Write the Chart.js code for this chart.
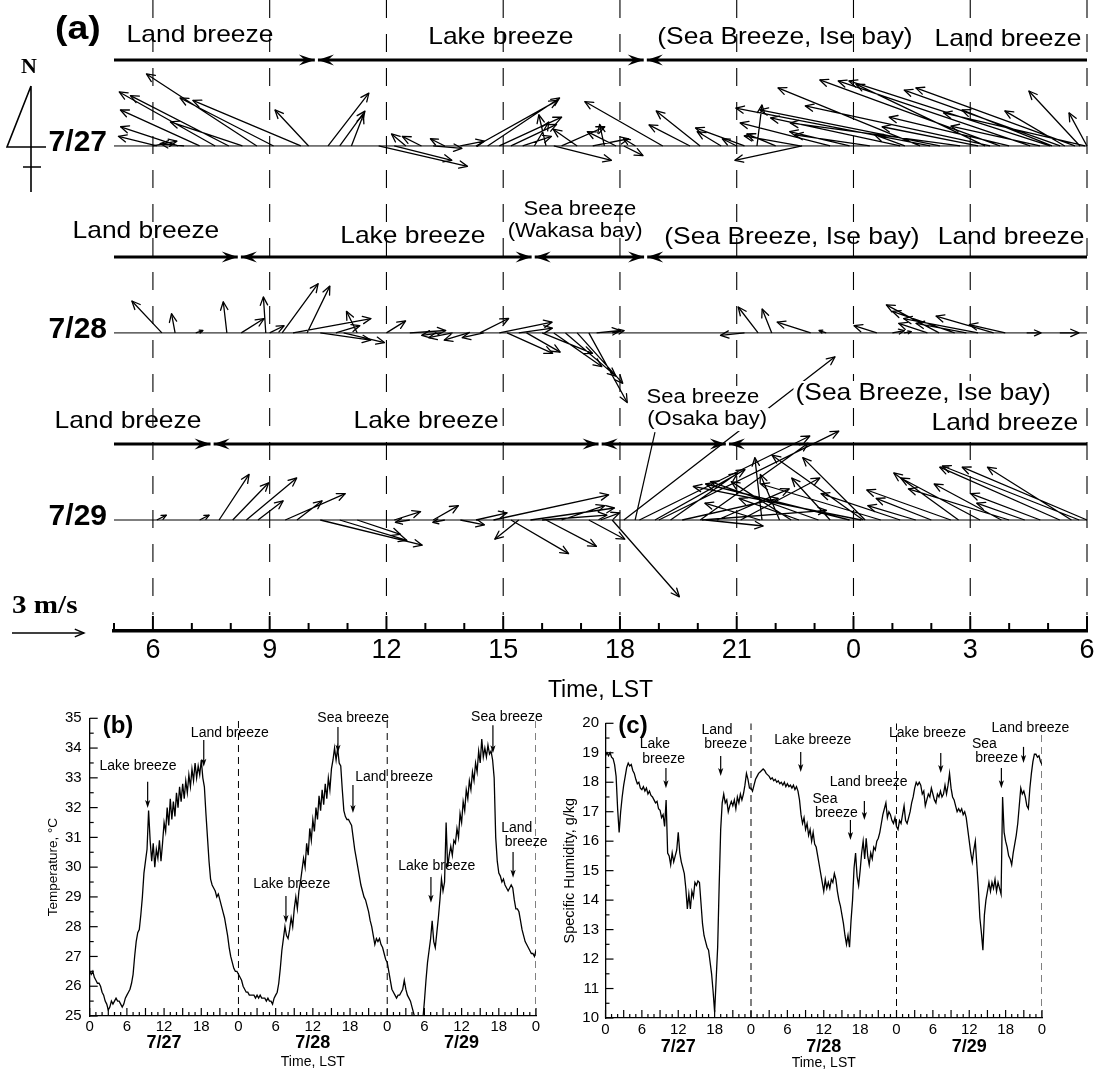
<!DOCTYPE html>
<html>
<head>
<meta charset="utf-8">
<title>Land, lake and sea breezes 7/27-7/29</title>
<script src="https://cdn.jsdelivr.net/npm/chart.js@4.4.1/dist/chart.umd.min.js"></script>
<style>
  html, body { margin:0; padding:0; background:#ffffff; }
  #fig { position:relative; width:1110px; height:1074px; overflow:hidden; background:#ffffff; }
  #fig canvas { position:absolute; }
</style>
</head>
<body>
<div id="fig">
  <canvas id="panelB" width="560" height="384" style="left:0px;top:690px;width:560px;height:384px"></canvas>
  <canvas id="panelC" width="555" height="384" style="left:555px;top:690px;width:555px;height:384px"></canvas>
  <canvas id="panelA" width="1110" height="712" style="left:0px;top:0px;width:1110px;height:712px"></canvas>
</div>
<script>
// ================= DATA =================
// ---- Panel (a): wind vectors (time in hours from 0 LST of 7/27's row, u/v in m/s) ----
const DATE_LABELS = ['7/27', '7/28', '7/29'];
const TIME_TICKS_A = [6, 9, 12, 15, 18, 21, 24, 27, 30];

const WIND_0727_T = [6.0, 6.1, 6.65, 6.8, 7.2, 7.6, 7.95, 8.3, 8.67, 9.1, 9.8, 10.0, 10.5, 10.8, 11.1,
  11.8, 12.2, 12.5, 12.9, 13.2, 13.5, 13.9, 14.3, 14.6, 14.9, 15.2, 15.5, 15.8, 16.1, 16.3, 16.5, 16.9, 17.3, 17.6, 17.9, 18.1, 18.4,
  19.1, 19.8, 20.06, 20.6, 21.0, 21.2, 21.52, 22.0, 22.63, 22.68, 23.4, 23.9, 24.42, 25.2, 25.32, 25.71, 25.97, 26.22, 26.74, 27.2, 27.38, 27.51, 27.76, 28.0, 28.54, 28.79, 29.05, 29.1, 29.31, 29.43, 29.69, 29.82, 29.95, 30.0];
const WIND_0727_U = [1.0, -1.6, -2.4, -1.0, -3.3, -4.0, -4.1, -3.0, -4.6, -3.9, -4.5, -1.4, 1.7, 1.05, 0.5,
  3.7, 2.4, -0.6, -0.8, 1.2, -0.6, 1.0, 3.4, 3.0, 2.6, 1.9, 1.2, 0.6, -0.3, 2.4, 1.8, -1.0, 1.5, -0.2, -1.2, 0.8, -0.5,
  -3.25, -1.71, -1.83, -1.0, -0.6, -2.04, 0.21, -1.2, -2.33, -2.8, -3.75, -2.5, -3.13, -5.4, -1.25, -5.92, -8.1, -7.5, -7.08, -4.0, -5.38, -7.7, -7.5, -5.0, -8.0, -3.71, -8.38, -3.75, -6.5, -2.5, -6.63, -2.13, -5.9, -0.75];
const WIND_0727_V = [0.2, 0.4, 0.8, 0.1, 1.5, 2.25, 2.1, 1.0, 3.0, 2.0, 1.9, 1.5, 2.2, 1.45, 1.3,
  -0.85, -0.6, 0.5, 0.4, -0.1, 0.3, 0.2, 1.9, 2.0, 1.2, 0.9, 0.4, 1.0, 1.3, -0.6, 0.8, 0.7, 0.3, 0.9, 0.6, -0.4, 0.3,
  1.85, 0.88, 1.46, 0.6, 0.3, 0.75, 1.71, 0.5, 0.42, -0.6, 0.96, 0.6, 0.46, 1.17, 0.46, 2.42, 1.58, 1.5, 0.96, 0.8, 2.58, 1.67, 2.75, 1.2, 2.71, 0.83, 2.71, 1.5, 2.33, 1.46, 2.42, 2.29, 1.38, 1.38];

const WIND_0728_T = [6.23, 6.57, 7.1, 7.9, 8.27, 8.9, 9.0, 9.32, 9.6, 9.96, 10.3, 10.7, 10.9, 11.25, 12.0, 12.6, 13.4, 13.7, 14.1, 14.4, 14.5, 14.9, 15.1, 15.4, 15.6, 16.0, 16.3, 16.6, 16.9, 17.2, 17.4, 17.8,
  21.2, 21.55, 21.9, 22.9, 23.3, 24.6, 25.0, 25.3, 25.9, 26.2, 26.6, 26.9, 27.2, 27.6, 27.9, 28.45, 29.3];
const WIND_0728_U = [-1.25, -0.15, 0.3, -0.15, 0.95, -0.1, 0.6, 1.5, 3.25, 0.95, 2.1, 1.0, 1.7, -0.45, 0.8, 1.5, -0.8, -1.0, -1.0, 1.2, -0.9, 2.2, 1.9, 1.4, 1.4, 2.1, 2.0, 2.1, 1.9, 1.6, 1.0, 0.5,
  -1.0, -0.83, -0.4, -1.4, -0.3, -0.95, 0.5, 0.3, -1.2, -2.2, -2.6, -2.1, -3.1, -2.4, -1.5, 0.6, 0.8];
const WIND_0728_V = [1.33, 0.8, 0.1, 1.3, 0.6, 1.5, 0.3, 2.05, 0.6, 1.95, -0.3, 0.3, -0.4, 0.9, 0.5, 0.1, -0.1, -0.2, -0.3, 0.6, -0.2, 0.45, -0.85, 0.2, -0.8, -0.85, -1.4, -1.8, -2.1, -2.9, 0.1, 0.1,
  -0.1, 1.08, 1.0, 0.45, 0.1, 0.3, 0.1, 0.05, 0.4, 1.17, 0.9, 0.4, 0.6, 0.7, 0.35, 0.0, 0.0];

const WIND_0729_T = [6.1, 7.2, 7.7, 8.05, 8.4, 8.7, 9.4, 9.7, 10.3, 10.8, 11.25, 12.2, 12.6, 13.2, 13.5, 13.9, 14.3, 14.75, 15.2, 15.4, 15.7, 16.0, 16.1, 16.5, 17.2, 17.5, 17.8,
  18.1, 18.5, 18.9, 19.0, 19.3, 19.6, 20.06, 20.1, 20.2, 20.5, 21.1, 21.6, 21.65, 22.1, 22.4, 22.6, 23.1, 23.4, 23.9, 24.2, 24.25, 24.3, 24.7, 25.2, 25.6, 26.0, 26.5, 26.7, 27.25, 27.8, 28.0, 28.4, 28.8, 29.3, 29.6, 29.8, 30.0];
const WIND_0729_U = [0.4, 0.4, 1.25, 1.5, 2.1, 1.05, 2.5, 1.05, 4.25, 2.8, 1.8, 1.1, -0.6, 1.05, -0.5, 1.0, 1.3, 4.8, 2.4, -1.0, 3.5, 2.7, 2.1, 1.8, 1.5, 0.8, 2.8,
  8.8, 7.1, 3.75, 7.5, 2.8, 4.0, 4.5, 5.2, 2.4, 3.0, 3.3, -2.3, -0.3, -0.8, -2.5, -2.5, -4.5, -1.6, -6.0, -7.0, -3.8, -2.6, -5.0, -3.3, -2.0, -2.3, -3.5, -2.7, -3.3, -2.8, -4.2, -2.0, -2.9, -5.0, -3.5, -5.7, -5.2];
const WIND_0729_V = [0.2, 0.2, 1.9, 1.55, 1.75, 0.8, 1.1, 0.8, -1.05, -0.85, -0.6, 0.35, -0.1, 0.6, -0.1, -0.2, 0.3, 1.05, -1.4, -0.8, 0.5, 0.2, -1.1, 0.6, -0.8, 0.3, -3.2,
  6.8, 3.5, 2.1, 3.7, 1.96, 0.9, 3.2, 0.4, -0.25, 1.3, 1.75, 0.7, 2.6, 1.9, 1.6, 0.9, 1.6, 1.75, 1.5, 1.4, 2.7, 2.6, 1.5, 1.1, 0.6, 0.9, 1.25, 1.96, 1.75, 1.5, 1.3, 0.7, 1.1, 2.2, 2.2, 2.25, 2.2];

// breeze period boundaries (hours)
const BREEZE_0727 = [5, 10.2, 18.65, 30];
const BREEZE_0728 = [5, 8.22, 15.77, 18.66, 30];
const BREEZE_0729 = [5, 7.52, 17.49, 20.76, 30];
const SCALE_ARROW_MS = 3;

// ---- Panels (b) and (c): time series every 0.25 h from 0 LST 7/27 ----
const SERIES_STEP_H = 0.25;
const TEMPERATURE_C = [
  26.5, 26.4, 26.5, 26.3,  26.2, 26.1, 26.1, 26.0,  25.8, 25.7, 25.5, 25.4,  25.2, 25.3, 25.5, 25.4,
  25.5, 25.6, 25.5, 25.5,  25.4, 25.3, 25.4, 25.6,  25.7, 25.8, 25.9, 26.1,  26.4, 27.0, 27.5, 27.8,
  27.9, 28.4, 29.0, 29.8,  30.2, 30.6, 31.9, 30.9,  30.2, 30.8, 30.0, 30.6,  30.3, 30.9, 30.2, 30.8,
  31.5, 31.2, 32.0, 31.4,  32.3, 31.6, 32.2, 31.7,  32.5, 32.0, 32.7, 32.2,  32.8, 32.3, 32.9, 32.5,
  33.1, 32.7, 33.3, 32.9,  33.5, 33.0, 33.4, 33.1,  33.6, 33.0, 32.7, 31.8,  31.0, 30.2, 29.6, 29.4,
  29.3, 29.2, 29.0, 29.1,  28.9, 28.7, 28.5, 28.3,  28.0, 27.7, 27.3, 27.0,  26.8, 26.6, 26.5, 26.5,
  26.4, 26.3, 26.2, 26.0,  25.9, 25.8, 25.8, 25.7,  25.7, 25.7, 25.7, 25.6,  25.7, 25.6, 25.7, 25.6,
  25.6, 25.6, 25.5, 25.6,  25.5, 25.5, 25.4, 25.6,  25.7, 25.8, 26.1, 26.6,  27.2, 27.6, 28.0, 27.7,
  27.6, 27.9, 28.3, 28.0,  28.6, 29.0, 28.6, 29.2,  29.5, 29.9, 30.3, 30.0,  30.8, 30.4, 31.3, 30.9,
  31.6, 31.2, 32.0, 31.6,  32.4, 31.9, 32.6, 32.1,  32.8, 32.3, 33.0, 32.6,  33.3, 33.6, 34.0, 33.6,
  34.0, 33.5, 33.4, 32.6,  31.9, 31.7, 31.6, 31.6,  31.5, 31.4, 31.0, 30.6,  30.3, 30.0, 29.7, 29.4,
  29.2, 29.0, 28.9, 28.7,  28.5, 28.2, 28.0, 27.7,  27.4, 27.6, 27.5, 27.6,  27.4, 27.3, 27.1, 26.9,
  26.8, 26.5, 26.2, 25.9,  25.8, 25.7, 25.6, 25.7,  25.7, 25.8, 25.9, 26.2,  25.9, 25.7, 25.6, 25.5,
  25.3, 25.1, 24.9, 24.7,  24.6, 24.6, 24.7, 24.9,  25.5, 26.2, 26.8, 27.2,  27.6, 28.2, 27.5, 27.3,
  27.8, 28.3, 28.9, 29.6,  29.2, 29.5, 31.5, 30.0,  30.4, 30.7, 30.4, 30.9,  30.8, 31.3, 31.0, 31.8,
  31.5, 32.2, 31.9, 32.6,  32.3, 32.9, 32.6, 33.2,  32.9, 33.5, 33.2, 33.9,  33.5, 34.3, 33.7, 34.0,
  33.7, 34.1, 33.8, 33.9,  33.6, 33.0, 31.0, 30.2,  29.8, 29.7, 29.5, 29.6,  29.4, 29.3, 29.2, 29.3,
  29.4, 29.3, 28.9, 28.6,  28.6, 28.5, 28.2, 27.9,  27.7, 27.5, 27.4, 27.3,  27.2, 27.1, 27.1, 27.0,
  27.2
];
const HUMIDITY_GKG = [
  18.9, 19.0, 18.9, 19.0,  18.85, 18.8, 18.6, 18.2,  17.1, 16.3, 17.0, 17.5,  17.9, 18.2, 18.5, 18.65,
  18.55, 18.6, 18.4, 18.3,  18.1, 17.95, 18.0, 17.8,  17.75, 17.85, 17.7, 17.8,  17.6, 17.7, 17.55, 17.5,
  17.4, 17.3, 17.35, 17.1,  17.05, 16.8, 16.9, 16.5,  17.4, 15.6, 15.5, 15.2,  15.6, 15.3, 15.5, 15.7,
  16.3, 15.6, 15.3, 15.1,  14.9, 14.4, 13.7, 14.2,  13.7, 14.3, 14.1, 14.6,  14.5, 14.65, 14.6, 13.9,
  13.2, 12.8, 12.6, 12.4,  12.3, 11.9, 11.5, 10.9,  10.2, 11.3, 12.4, 14.5,  16.4, 17.3, 17.6, 17.3,
  17.4, 17.0, 17.2, 17.35,  17.2, 17.4, 17.1, 17.5,  17.3, 17.6, 17.4, 17.6,  17.9, 18.3, 18.1, 17.8,
  17.8, 17.7, 17.9, 18.1,  18.2, 18.3, 18.35, 18.4,  18.45, 18.4, 18.3, 18.25,  18.2, 18.1, 18.15, 18.05,
  18.1, 18.0, 18.05, 17.95,  18.0, 17.9, 18.0, 17.85,  17.95, 17.85, 17.9, 17.8,  17.9, 17.75, 17.85, 17.7,
  17.4, 16.9, 16.6, 16.8,  16.4, 16.6, 16.2, 16.4,  16.0, 16.3, 15.9, 15.8,  15.5, 15.2, 14.9, 14.6,
  14.3, 14.7, 14.4, 14.6,  14.4, 14.7, 14.6, 14.9,  14.7, 14.3, 14.0, 13.8,  13.5, 13.2, 12.8, 12.5,
  12.8, 12.4, 13.3, 14.0,  15.1, 15.6, 14.8, 14.5,  15.0, 15.6, 16.0, 15.4,  16.1, 15.5, 15.2, 15.6,
  15.4, 15.8, 15.7, 16.0,  16.1, 16.3, 16.6, 16.9,  17.1, 17.3, 16.8, 17.0,  16.9, 16.7, 16.6, 16.8,
  16.5, 16.4, 16.7, 16.6,  16.9, 17.2, 16.7, 16.6,  16.8, 17.0, 17.3, 17.5,  17.8, 18.0, 17.9, 18.0,
  17.9, 17.6, 17.7, 17.2,  17.4, 17.6, 17.5, 17.8,  17.6, 17.4, 17.3, 17.6,  17.5, 17.7, 17.5, 17.6,
  17.9, 17.6, 17.9, 18.3,  17.8, 17.5, 17.4, 17.2,  17.0, 17.1, 17.0, 17.1,  16.9, 17.0, 16.8, 16.4,
  16.0, 15.6, 15.3, 15.7,  16.0, 15.2, 14.4, 13.4,  12.9, 12.3, 13.5, 14.0,  14.3, 14.6, 14.3, 14.6,
  14.4, 14.7, 14.3, 14.6,  14.4, 14.2, 17.5, 16.3,  16.0, 15.8, 15.5, 15.4,  15.2, 15.6, 15.9, 16.2,
  16.6, 17.2, 17.8, 17.6,  17.7, 17.5, 17.2, 17.1,  17.8, 18.3, 18.7, 18.95,  18.95, 18.85, 18.9, 18.7,
  18.6
];
const DAY_LABELS = ['7/27', '7/28', '7/29'];
const DAY_CENTERS_H = [12, 36, 60];
const DAY_BOUNDARIES_H = [24, 48, 72];
const TIME_TICKS_BC = [0, 6, 12, 18, 24, 30, 36, 42, 48, 54, 60, 66, 72];
const TEMP_TICKS = [25, 26, 27, 28, 29, 30, 31, 32, 33, 34, 35];
const HUMID_TICKS = [10, 11, 12, 13, 14, 15, 16, 17, 18, 19, 20];

// ================= LAYOUT / STYLE =================
const SANS = "'Liberation Sans', Arial, Helvetica, sans-serif";
const SERIF = "'Liberation Serif', 'Times New Roman', serif";
const A_GEOM = {
  yMax: 631 / 24,             // y axis in m/s units (1 m/s drawn as 24 px)
  hoursPerMs: 0.6166,         // same drawn length on the time axis
  rowBase: [20.21, 12.42, 4.625],
  breezeY: [23.79, 15.58, 7.79],
  dashBottom: 0.67,
  stretch: 1.1
};
const A_LABELS = [
  {text: 'Land breeze', h: 7.21, y: 24.54},
  {text: 'Lake breeze', h: 14.94, y: 24.46},
  {text: '(Sea Breeze, Ise bay)', h: 22.24, y: 24.46},
  {text: 'Land breeze', h: 27.97, y: 24.38},
  {text: 'Land breeze', h: 5.82, y: 16.375},
  {text: 'Lake breeze', h: 12.68, y: 16.17},
  {text: 'Sea breeze', h: 16.97, y: 17.33, small: true},
  {text: '(Wakasa bay)', h: 16.85, y: 16.42, small: true},
  {text: '(Sea Breeze, Ise bay)', h: 22.42, y: 16.125},
  {text: 'Land breeze', h: 28.05, y: 16.125},
  {text: 'Land breeze', h: 5.36, y: 8.46},
  {text: 'Lake breeze', h: 13.02, y: 8.46},
  {text: 'Sea breeze', h: 20.13, y: 9.5, small: true, bg: true},
  {text: '(Osaka bay)', h: 20.24, y: 8.58, small: true, bg: true},
  {text: '(Sea Breeze, Ise bay)', h: 25.79, y: 9.625, bg: true},
  {text: 'Land breeze', h: 27.89, y: 8.375}
];
const OSAKA_LEADER = [{x: 18.39, y: 4.625}, {x: 18.9, y: 8.29}];

const B_NOTES = {
  texts: [
    {t: 'Lake breeze', h: 7.8, v: 33.27}, {t: 'Land breeze', h: 22.6, v: 34.37},
    {t: 'Sea breeze', h: 42.5, v: 34.89}, {t: 'Land breeze', h: 49.1, v: 32.9},
    {t: 'Lake breeze', h: 32.6, v: 29.29}, {t: 'Sea breeze', h: 67.3, v: 34.92},
    {t: 'Lake breeze', h: 56.0, v: 29.9}, {t: 'Land', h: 68.9, v: 31.19}, {t: 'breeze', h: 70.4, v: 30.72}
  ],
  arrows: [
    {h: 9.35, v1: 32.87, v2: 31.99}, {h: 18.4, v1: 34.27, v2: 33.37}, {h: 40.05, v1: 34.71, v2: 33.84},
    {h: 42.47, v1: 32.76, v2: 31.82}, {h: 31.66, v1: 29.03, v2: 28.12}, {h: 65.05, v1: 34.77, v2: 33.83},
    {h: 55.05, v1: 29.67, v2: 28.8}, {h: 68.3, v1: 30.51, v2: 29.64}
  ]
};
const C_NOTES = {
  texts: [
    {t: 'Lake', h: 8.15, v: 19.15}, {t: 'breeze', h: 9.6, v: 18.66},
    {t: 'Land', h: 18.4, v: 19.63}, {t: 'breeze', h: 19.8, v: 19.15},
    {t: 'Lake breeze', h: 34.2, v: 19.29}, {t: 'Land breeze', h: 43.4, v: 17.87},
    {t: 'Sea', h: 36.2, v: 17.29}, {t: 'breeze', h: 38.1, v: 16.81},
    {t: 'Lake breeze', h: 53.1, v: 19.52},
    {t: 'Sea', h: 62.5, v: 19.15}, {t: 'breeze', h: 64.5, v: 18.68},
    {t: 'Land breeze', h: 70.1, v: 19.72}
  ],
  arrows: [
    {h: 9.97, v1: 18.48, v2: 17.8}, {h: 19.0, v1: 18.89, v2: 18.21}, {h: 32.2, v1: 19.03, v2: 18.35},
    {h: 42.7, v1: 17.36, v2: 16.72}, {h: 40.4, v1: 16.72, v2: 16.04}, {h: 55.3, v1: 18.99, v2: 18.31},
    {h: 65.3, v1: 18.48, v2: 17.8}, {h: 68.95, v1: 19.2, v2: 18.65}
  ]
};

// ================= HELPERS =================
function drawText(ctx, text, x, y, font, opt) {
  opt = opt || {};
  const sx = opt.sx || 1, align = opt.align || 'center';
  ctx.save();
  ctx.font = font;
  ctx.textBaseline = opt.baseline || 'alphabetic';
  ctx.textAlign = 'left';
  const m = ctx.measureText(text);
  const w = m.width * sx;
  const x0 = align === 'center' ? x - w / 2 : (align === 'right' ? x - w : x);
  if (opt.bg) {
    ctx.fillStyle = '#ffffff';
    ctx.fillRect(x0 - 2, y - m.actualBoundingBoxAscent - 2, w + 4, m.actualBoundingBoxAscent + m.actualBoundingBoxDescent + 4);
  }
  ctx.fillStyle = '#000';
  ctx.translate(x0, y);
  ctx.scale(sx, 1);
  ctx.fillText(text, 0, 0);
  ctx.restore();
}
function openHead(ctx, x0, y0, x1, y1, len, ang) {
  const L = Math.hypot(x1 - x0, y1 - y0);
  if (L < 0.5) return;
  const l = Math.min(len, L * 0.5);
  const a = Math.atan2(y1 - y0, x1 - x0);
  ctx.beginPath();
  ctx.moveTo(x1 - l * Math.cos(a - ang), y1 - l * Math.sin(a - ang));
  ctx.lineTo(x1, y1);
  ctx.lineTo(x1 - l * Math.cos(a + ang), y1 - l * Math.sin(a + ang));
  ctx.stroke();
}
function solidHead(ctx, x0, y0, x1, y1) {
  const a = Math.atan2(y1 - y0, x1 - x0);
  const c = Math.cos(a), s = Math.sin(a);
  const back = 16, half = 5.5, notch = 10;
  ctx.beginPath();
  ctx.moveTo(x1, y1);
  ctx.lineTo(x1 - back * c - half * s, y1 - back * s + half * c);
  ctx.lineTo(x1 - notch * c, y1 - notch * s);
  ctx.lineTo(x1 - back * c + half * s, y1 - back * s - half * c);
  ctx.closePath();
  ctx.fill();
}
function vectorData(T, U, V, base) {
  const d = [];
  const n = Math.min(T.length, U.length, V.length);
  for (let i = 0; i < n; i++) {
    d.push({x: T[i], y: base});
    d.push({x: T[i] + U[i] * A_GEOM.hoursPerMs, y: base + V[i]});
    d.push({x: T[i], y: null});
  }
  return d;
}
function breezeData(bounds, y) {
  const data = [], heads = [], gap = 0.04, last = bounds.length - 1;
  for (let k = 0; k < last; k++) {
    const s = bounds[k] + (k > 0 ? gap : 0);
    const e = bounds[k + 1] - (k + 1 < last ? gap : 0);
    data.push({x: s, y: y}, {x: e, y: y}, {x: s, y: null});
    heads.push([k > 0, k + 1 < last]);
  }
  return {data, heads};
}
function verticalLines(hours, y0, y1) {
  const d = [];
  hours.forEach(h => { d.push({x: h, y: y0}, {x: h, y: y1}, {x: h, y: null}); });
  return d;
}

const arrowHeadPlugin = {
  id: 'arrowHeads',
  afterDatasetsDraw(chart) {
    const ctx = chart.ctx;
    chart.data.datasets.forEach((ds, di) => {
      if (!ds.arrowMode) return;
      const pts = chart.getDatasetMeta(di).data;
      ctx.save();
      ctx.strokeStyle = '#000'; ctx.fillStyle = '#000';
      ctx.lineCap = 'round'; ctx.lineJoin = 'round';
      for (let i = 0; i + 1 < pts.length; i += 3) {
        const a = pts[i], b = pts[i + 1];
        if (ds.arrowMode === 'vector') {
          ctx.lineWidth = ds.borderWidth;
          openHead(ctx, a.x, a.y, b.x, b.y, 9, 0.42);
        } else if (ds.arrowMode === 'breeze') {
          const hs = ds.segHeads[i / 3];
          if (hs[1]) solidHead(ctx, a.x, a.y, b.x, b.y);
          if (hs[0]) solidHead(ctx, b.x, b.y, a.x, a.y);
        }
      }
      ctx.restore();
    });
  }
};

// ================= PANEL (a) =================
const panelAPlugin = {
  id: 'panelA',
  afterDatasetsDraw(chart) {
    const {ctx, chartArea: ca, scales: {x: xs, y: ys}} = chart;
    const X = v => xs.getPixelForValue(v), Y = v => ys.getPixelForValue(v);
    // inward ticks on time axis
    ctx.save();
    ctx.strokeStyle = '#000'; ctx.lineWidth = 2;
    for (let h = 5; h <= 30; h++) {
      const px = X(h), len = (h % 3 === 0) ? 15 : 8;
      ctx.beginPath(); ctx.moveTo(px, ca.bottom); ctx.lineTo(px, ca.bottom - len); ctx.stroke();
    }
    ctx.restore();
    // labels
    A_LABELS.forEach(l => {
      drawText(ctx, l.text, X(l.h), Y(l.y), (l.small ? '20px ' : '24px ') + SANS, {sx: A_GEOM.stretch, bg: l.bg});
    });
    drawText(ctx, '(a)', 55, 39, 'bold 34px ' + SANS, {align: 'left', sx: A_GEOM.stretch});
    // row date labels
    DATE_LABELS.forEach((d, i) => {
      drawText(ctx, d, ca.left - 7, Y(A_GEOM.rowBase[i]) - 3, 'bold 30px ' + SANS, {align: 'right', baseline: 'middle'});
    });
    // north arrow symbol
    const b0 = Y(A_GEOM.rowBase[0]);
    ctx.save();
    ctx.strokeStyle = '#000'; ctx.lineWidth = 1.6;
    ctx.beginPath();
    ctx.moveTo(31, b0 - 60); ctx.lineTo(7, b0 + 1); ctx.lineTo(46, b0 + 1);
    ctx.moveTo(31, b0 - 60); ctx.lineTo(31, b0 + 46);
    ctx.moveTo(23, b0 + 21); ctx.lineTo(41, b0 + 21);
    ctx.stroke();
    ctx.restore();
    drawText(ctx, 'N', 29, b0 - 73, 'bold 22px ' + SERIF);
    // 3 m/s scale arrow
    const pxPerMs = Y(0) - Y(1);
    drawText(ctx, '3 m/s', ca.left - 102, ca.bottom - 18, 'bold 26px ' + SERIF, {align: 'left', sx: 1.12});
    ctx.save();
    ctx.strokeStyle = '#000'; ctx.lineWidth = 1.4;
    const ax0 = ca.left - 102, ax1 = ax0 + SCALE_ARROW_MS * pxPerMs, ay = ca.bottom + 2;
    ctx.beginPath(); ctx.moveTo(ax0, ay); ctx.lineTo(ax1, ay); ctx.stroke();
    openHead(ctx, ax0, ay, ax1, ay, 10, 0.4);
    ctx.restore();
  }
};

const rowDatasets = [];
[[WIND_0727_T, WIND_0727_U, WIND_0727_V], [WIND_0728_T, WIND_0728_U, WIND_0728_V], [WIND_0729_T, WIND_0729_U, WIND_0729_V]]
  .forEach((w, i) => {
    const base = A_GEOM.rowBase[i];
    rowDatasets.push({
      data: [{x: 5, y: base}, {x: 30, y: base}],
      borderColor: '#000', borderWidth: 1, pointRadius: 0, clip: false
    });
    rowDatasets.push({
      data: vectorData(w[0], w[1], w[2], base),
      borderColor: '#000', borderWidth: 1.3, pointRadius: 0, spanGaps: false, clip: false,
      arrowMode: 'vector'
    });
  });
[BREEZE_0727, BREEZE_0728, BREEZE_0729].forEach((b, i) => {
  const bd = breezeData(b, A_GEOM.breezeY[i]);
  rowDatasets.push({
    data: bd.data, segHeads: bd.heads,
    borderColor: '#000', borderWidth: 3, pointRadius: 0, spanGaps: false, clip: false,
    arrowMode: 'breeze'
  });
});

new Chart(document.getElementById('panelA'), {
  type: 'line',
  data: {
    datasets: [
      {data: verticalLines(TIME_TICKS_A, A_GEOM.yMax, A_GEOM.dashBottom), borderColor: '#000', borderWidth: 1.1,
       borderDash: [18, 16], pointRadius: 0, spanGaps: false, clip: false},
      ...rowDatasets,
      {data: OSAKA_LEADER, borderColor: '#000', borderWidth: 1.2, pointRadius: 0, clip: false}
    ]
  },
  options: {
    responsive: false, animation: false, devicePixelRatio: 1, events: [],
    layout: {padding: {left: 114, right: 23, top: 0, bottom: 0}},
    plugins: {legend: {display: false}, tooltip: {enabled: false}},
    scales: {
      x: {
        type: 'linear', min: 5, max: 30,
        afterBuildTicks: s => { s.ticks = TIME_TICKS_A.map(v => ({value: v})); },
        afterFit: s => { s.height = 81; },
        grid: {display: false, drawTicks: false},
        border: {display: true, color: '#000', width: 3.5},
        ticks: {color: '#000', font: {family: SANS, size: 27}, padding: 3, maxRotation: 0, autoSkip: false,
                callback: v => String(v % 24)},
        title: {display: true, text: 'Time, LST', color: '#000', font: {family: SANS, size: 23}, padding: {top: 0, bottom: 8}}
      },
      y: {type: 'linear', display: false, min: 0, max: A_GEOM.yMax}
    }
  },
  plugins: [arrowHeadPlugin, panelAPlugin]
});

// ================= PANELS (b), (c) =================
const panelBCPlugin = {
  id: 'panelBC',
  afterDatasetsDraw(chart, args, o) {
    const {ctx, chartArea: ca, scales: {x: xs, y: ys}} = chart;
    const X = v => xs.getPixelForValue(v), Y = v => ys.getPixelForValue(v);
    ctx.save();
    ctx.strokeStyle = '#000'; ctx.lineWidth = 1.2;
    for (let h = 0; h <= 72; h++) {
      const px = X(h), len = (h % 3 === 0) ? 8 : 4;
      ctx.beginPath(); ctx.moveTo(px, ca.bottom); ctx.lineTo(px, ca.bottom - len); ctx.stroke();
    }
    for (let v = o.yMin; v <= o.yMax + 1e-9; v += 0.5) {
      const py = Y(v), len = Number.isInteger(v) ? 8 : 4;
      ctx.beginPath(); ctx.moveTo(ca.left, py); ctx.lineTo(ca.left + len, py); ctx.stroke();
    }
    ctx.restore();
    drawText(ctx, o.letter, X(o.letterPos[0]), Y(o.letterPos[1]), 'bold 24px ' + SANS);
    DAY_LABELS.forEach((d, i) => drawText(ctx, d, X(DAY_CENTERS_H[i]), ca.bottom + o.dayOffset, 'bold 18px ' + SANS));
    o.notes.texts.forEach(t => drawText(ctx, t.t, X(t.h), Y(t.v), '14px ' + SANS));
    ctx.save();
    ctx.strokeStyle = '#000'; ctx.fillStyle = '#000'; ctx.lineWidth = 1.2;
    o.notes.arrows.forEach(a => {
      const px = X(a.h), y1 = Y(a.v1), y2 = Y(a.v2);
      ctx.beginPath(); ctx.moveTo(px, y1); ctx.lineTo(px, y2 - 5); ctx.stroke();
      ctx.beginPath(); ctx.moveTo(px, y2); ctx.lineTo(px - 2.6, y2 - 8); ctx.lineTo(px, y2 - 6); ctx.lineTo(px + 2.6, y2 - 8); ctx.closePath(); ctx.fill();
    });
    ctx.restore();
  }
};

function seriesPanel(id, values, yMin, yMax, yTicks, yTitle, geom, pluginOpts) {
  return new Chart(document.getElementById(id), {
    type: 'line',
    data: {
      datasets: [
        {data: verticalLines(DAY_BOUNDARIES_H, yMin, yMax), borderColor: '#000', borderWidth: 1,
         borderDash: [7, 5], pointRadius: 0, spanGaps: false},
        {data: values.map((v, i) => ({x: i * SERIES_STEP_H, y: v})), borderColor: '#000', borderWidth: 1.3,
         pointRadius: 0, tension: 0}
      ]
    },
    options: {
      responsive: false, animation: false, devicePixelRatio: 1, events: [],
      layout: {padding: {left: 0, right: geom.right, top: geom.top, bottom: 0}},
      plugins: {legend: {display: false}, tooltip: {enabled: false}, panelBC: pluginOpts},
      scales: {
        x: {
          type: 'linear', min: 0, max: 72,
          afterBuildTicks: s => { s.ticks = TIME_TICKS_BC.map(v => ({value: v})); },
          afterFit: s => { s.height = geom.xHeight; },
          grid: {display: false, drawTicks: false},
          border: {display: true, color: '#000', width: 1.3},
          ticks: {color: '#000', font: {family: SANS, size: 15}, padding: geom.xPad, maxRotation: 0, autoSkip: false,
                  callback: v => String(v % 24)},
          title: {display: true, text: 'Time, LST', color: '#000', font: {family: SANS, size: 14}, padding: {top: 0, bottom: geom.xTitlePad}}
        },
        y: {
          type: 'linear', min: yMin, max: yMax,
          afterBuildTicks: s => { s.ticks = yTicks.map(v => ({value: v})); },
          afterFit: s => { s.width = geom.left; },
          grid: {display: false, drawTicks: false},
          border: {display: true, color: '#000', width: 1.3},
          ticks: {color: '#000', font: {family: SANS, size: 15}, padding: geom.yPad},
          title: {display: true, text: yTitle, color: '#000', font: {family: SANS, size: geom.yTitleSize}, padding: {top: geom.yTitlePad, bottom: 0}}
        }
      }
    },
    plugins: [panelBCPlugin]
  });
}

seriesPanel('panelB', TEMPERATURE_C, 25, 35, TEMP_TICKS, 'Temperature, °C',
  {left: 89.7, right: 24, top: 28.3, xHeight: 58, xPad: 2, xTitlePad: 3.6, yPad: 8, yTitleSize: 13.5, yTitlePad: 44.9},
  {letter: '(b)', letterPos: [4.56, 34.5], yMin: 25, yMax: 35, dayOffset: 32, notes: B_NOTES});

seriesPanel('panelC', HUMIDITY_GKG, 10, 20, HUMID_TICKS, 'Specific Humidity, g/kg',
  {left: 50.5, right: 68, top: 33.3, xHeight: 56, xPad: 3, xTitlePad: 2.6, yPad: 6.5, yTitleSize: 14.5, yTitlePad: 6.3},
  {letter: '(c)', letterPos: [4.53, 19.66], yMin: 10, yMax: 20, dayOffset: 34, notes: C_NOTES});
</script>
</body>
</html>
